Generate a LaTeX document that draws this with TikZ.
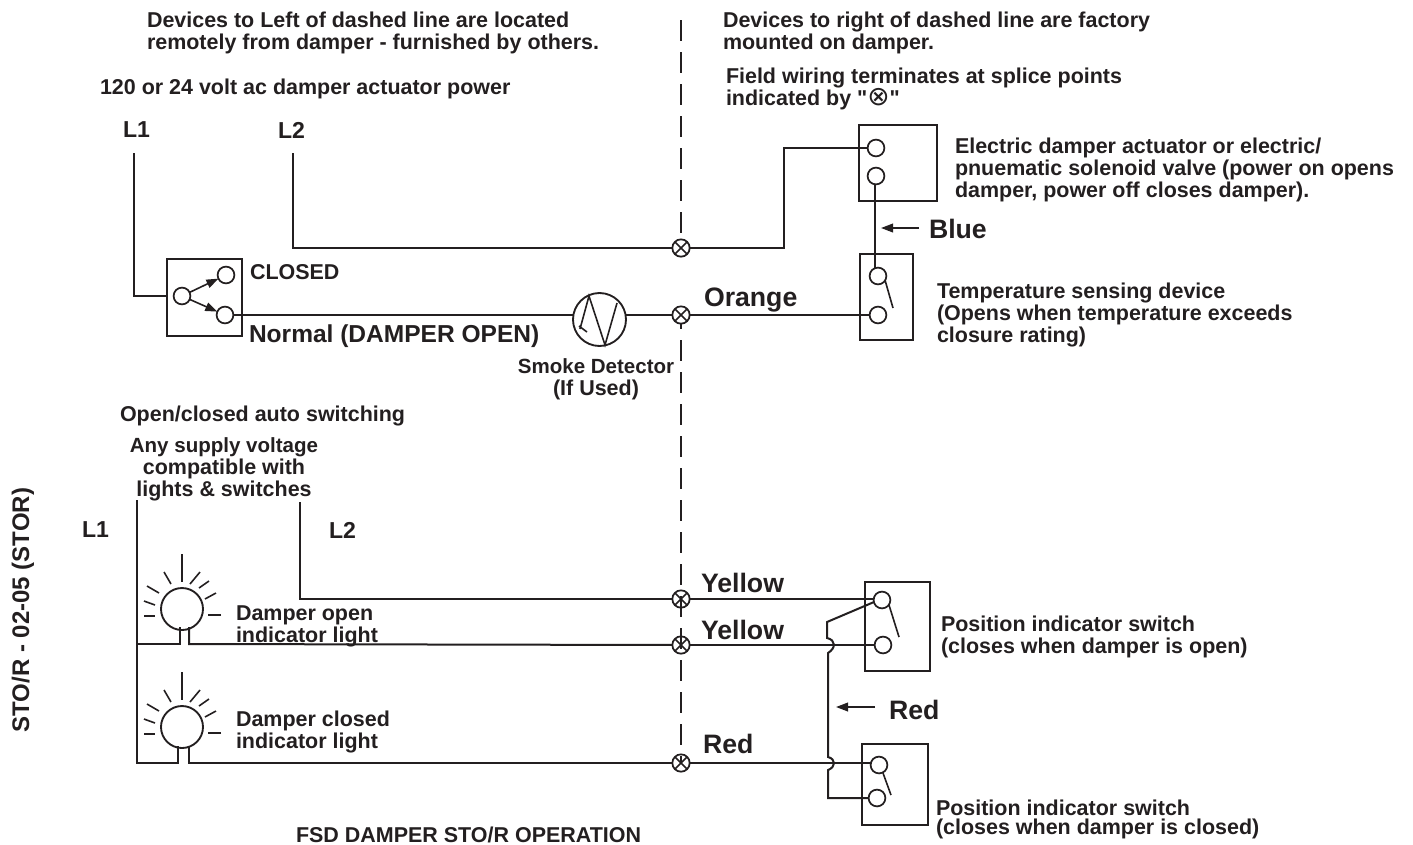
\documentclass[tikz,border=0pt]{standalone}
\usepackage{fontspec}
\setmainfont{Liberation Sans}
\newfontfamily\symfont{DejaVu Sans}
\newfontfamily\plainfont{Liberation Sans}
\usetikzlibrary{arrows.meta,calc}
\definecolor{ink}{HTML}{231F20}
\newcommand{\lblfont}{\fontsize{16.1}{16.5}\selectfont\bfseries}
\newcommand{\tightfont}{\fontsize{15.4}{16.5}\selectfont}
\newcommand{\bigfont}{\fontsize{20}{22}\selectfont\bfseries}
\newcommand{\lfont}{\fontsize{17.3}{20}\selectfont\bfseries}
\tikzset{
 wire/.style={line width=1.5pt,color=ink,line join=miter},
 thin wire/.style={line width=1.4pt,color=ink},
 term/.style={circle,draw=ink,line width=1.3pt,minimum size=12.6pt,inner sep=0pt,outer sep=0pt},
 splice/.style={circle,draw=ink,line width=1.3pt,minimum size=13pt,inner sep=0pt,outer sep=0pt,
   path picture={\draw[line width=1.1pt,color=ink] (path picture bounding box.north west)--(path picture bounding box.south east)
     (path picture bounding box.north east)--(path picture bounding box.south west);}},
 lamp/.style={circle,draw=ink,line width=1.4pt,minimum size=31.5pt,inner sep=0pt,outer sep=0pt},
 devbox/.style={draw=ink,line width=1.4pt,inner sep=0pt,outer sep=0pt,anchor=north west},
 lab/.style={anchor=north west,inner sep=0pt,outer sep=0pt,align=left,text=ink,font=\lblfont},
 labc/.style={anchor=north,inner sep=0pt,outer sep=0pt,align=center,text=ink,font=\lblfont},
 big/.style={anchor=north west,inner sep=0pt,outer sep=0pt,text=ink,font=\bigfont},
 pointer/.style={line width=1.3pt,color=ink,-{Triangle[length=9pt,width=6.5pt]}},
 ray/.style={line width=1.2pt,color=ink},
 dashline/.style={line width=1.3pt,color=ink,dash pattern=on 16pt off 8pt},
}
\begin{document}
\begin{tikzpicture}[x=0.75pt,y=-0.75pt]
\useasboundingbox (0,0) rectangle (1413,844);
% dashed separator
\coordinate (dtop) at (681,20);
\coordinate (dmid) at (681,234);
\coordinate (dlow) at (681,308);
\coordinate (dbot) at (681,763);
\draw[dashline] (dtop) -- (dmid);
\draw[dashline] (dlow) -- (dbot);
% boxes
\node[devbox,minimum width=58.5pt,minimum height=57pt] (actbox) at (859,125) {};
\node[devbox,minimum width=39.75pt,minimum height=64.5pt] (tempbox) at (860,254) {};
\node[devbox,minimum width=56.25pt,minimum height=57.75pt] (selbox) at (167,259) {};
\node[devbox,minimum width=48.75pt,minimum height=66.75pt] (posa) at (865,582) {};
\node[devbox,minimum width=49.5pt,minimum height=60.75pt] (posb) at (862,744) {};
% terminals
\node[term] (act1) at (876,148) {};
\node[term] (act2) at (876,176) {};
\node[term] (temp1) at (878,276) {};
\node[term] (temp2) at (878,315) {};
\node[term] (selc) at (182,296) {};
\node[term] (selt) at (226,275) {};
\node[term] (selb) at (225,315) {};
\node[term] (posa1) at (882,600) {};
\node[term] (posa2) at (883,645) {};
\node[term] (posb1) at (879,765) {};
\node[term] (posb2) at (877,798) {};
% splices
\node[splice,fill=white] (sp1) at (681,248) {};
\node[splice,fill=white] (sp2) at (681,315) {};
\node[splice] (sp3) at (681,599) {};
\node[splice] (sp4) at (681,645) {};
\node[splice] (sp5) at (681,763) {};
% smoke detector
\node[circle,draw=ink,line width=1.4pt,minimum size=39.75pt,inner sep=0pt,outer sep=0pt] (det) at (599.5,319.5) {};
\draw[thin wire,line width=1.2pt] (580,329) -- (589,296) -- (605,345) -- (617,303);
\draw[thin wire,line width=1.2pt] (579,326) -- (587,332);
% lamps
\node[lamp] (lampa) at (182,609) {};
\node[lamp] (lampb) at (182,727) {};
\foreach \l in {lampa,lampb}{
 \begin{scope}[shift={(\l)}]
 \foreach \a/\b/\c/\d in {0/-55/0/-27, -18/-37/-11/-25, -35/-23/-23/-16, -38/-8/-27/-4, -38/7/-27/7, 18/-37/8/-25, 27/-28/17/-21, 34/-16/23/-10, 39/6/26/6}
   \draw[ray] (\a,\b) -- (\c,\d);
 \end{scope}
}
% free ends / bends
\coordinate (l1top) at (134,153);
\coordinate (l1bend) at (134,296);
\coordinate (l2top) at (293,153);
\coordinate (l2bend) at (293,248);
\coordinate (actbend1) at (784,248);
\coordinate (actbend2) at (784,148);
\coordinate (detin) at (573.5,315);
\coordinate (detout) at (625.5,315);
% top circuit wires
\draw[wire] (l1top) -- (l1bend) -- (l1bend -| selbox.west);
\draw[wire] (l2top) -- (l2bend) -- (sp1);
\draw[wire] (sp1) -- (actbend1) -- (actbend2) -- (act1);
\draw[wire] (act2.south) ++(-1.5,0) -- ($(temp1.north)+(-3.5,0)$);
\draw[wire] (selb.east) -- (detin);
\draw[wire] (detout) -- (sp2);
\draw[wire] (sp2) -- (temp2);
\draw[pointer,line width=1.2pt] (selc) -- (selt);
\draw[pointer,line width=1.2pt] (selc) -- (selb);
\draw[ray] (885,280) -- (893,308);
% lower circuit
\coordinate (lla) at (137,500);
\coordinate (llb) at (137,644);
\coordinate (llc) at (137,763);
\coordinate (l2b) at (300,502);
\coordinate (l2c) at (300,599);
\draw[wire] (lla) -- (llb) -- (llc) -- (178,763) -- (178,746);
\draw[wire] (llb) -- (180,644) -- (180,627);
\draw[wire] (189,627) -- (189,644) -- (sp4);
\draw[wire] (189,746) -- (189,763) -- (sp5);
\draw[wire] (l2b) -- (l2c) -- (sp3);
\draw[wire] (sp3) -- (sp3 -| posa1.west);
\draw[wire] (sp4) -- (posa2);
\draw[wire] (sp5) -- (sp5 -| posb1.west);
\draw[ray] (889,605) -- (899,637);
\draw[ray] (883,773) -- (891,795);
% red wire with hops
\coordinate (ra) at (874,602);
\coordinate (rb) at (827,622);
\coordinate (rc) at (827,638);
\coordinate (rd) at (828,653);
\coordinate (re) at (828,757);
\coordinate (rf) at (828,770);
\coordinate (rg) at (828,798);
\draw[wire] (ra) -- (rb) -- (rc) .. controls (836,640) and (836,648) .. (rd) -- (re)
  .. controls (836,759) and (836,767) .. (rf) -- (rg) -- (posb2);
% pointers
\coordinate (bluea) at (919,228);
\coordinate (blueb) at (881,228);
\coordinate (reda) at (875,707);
\coordinate (redb) at (836,707);
\draw[pointer] (bluea) -- (blueb);
\draw[pointer] (reda) -- (redb);
% labels
\node[lab] (t1) at (147,12) {Devices to Left of dashed line are located\\remotely from damper - furnished by others.};
\node[lab] (t2) at (723,12) {Devices to right of dashed line are factory\\mounted on damper.};
\node[lab] (t3) at (726,68) {Field wiring terminates at splice points\\indicated by {\plainfont\bfseries "}{\symfont\mdseries\fontsize{20}{16}\selectfont ⊗}{\plainfont\bfseries "}};
\node[lab] (t4) at (100,79) {120 or 24 volt ac damper actuator power};
\node[big,font=\lfont] (t5) at (123,122) {L1};
\node[big,font=\lfont] (t6) at (278,122) {L2};
\node[lab] (t7) at (955,138) {Electric damper actuator or electric/\\pnuematic solenoid valve (power on opens\\damper, power off closes damper).};
\node[big] (t8) at (929,219) {Blue};
\node[lab] (t9) at (250,265) {CLOSED};
\node[big,font=\fontsize{18.4}{20}\selectfont\bfseries] (t10) at (249,325) {Normal (DAMPER OPEN)};
\node[big] (t11) at (704,288) {Orange};
\node[lab] (t12) at (937,283) {Temperature sensing device\\(Opens when temperature exceeds\\closure rating)};
\node[labc] (t13) at (596,359) {{\tightfont Smoke Detector}\\(If Used)};
\node[lab] (t14) at (120,406) {Open/closed auto switching};
\node[labc] (t15) at (224,438) {{\tightfont Any supply voltage}\\compatible with\\lights \& switches};
\node[big,font=\lfont] (t16) at (82,522) {L1};
\node[big,font=\lfont] (t17) at (329,522) {L2};
\node[big] (t18) at (701,573) {Yellow};
\node[big] (t19) at (701,620) {Yellow};
\node[lab,font=\fontsize{16.1}{15}\selectfont\bfseries] (t20) at (236,606) {Damper open\\indicator light};
\node[lab] (t21) at (941,616) {Position indicator switch\\(closes when damper is open)};
\node[big] (t22) at (889,700) {Red};
\node[lab] (t23) at (236,711) {Damper closed\\indicator light};
\node[big] (t24) at (703,734) {Red};
\node[lab,font=\fontsize{16.1}{14}\selectfont\bfseries] (t25) at (936,800) {Position indicator switch\\(closes when damper is closed)};
\node[lab] (t26) at (296,826.5) {FSD DAMPER STO/R OPERATION};
\node[lab,anchor=center,rotate=90,font=\fontsize{18}{20}\selectfont\bfseries] (t27) at (23,610) {STO/R - 02-05 (STOR)};
\end{tikzpicture}
\end{document}
